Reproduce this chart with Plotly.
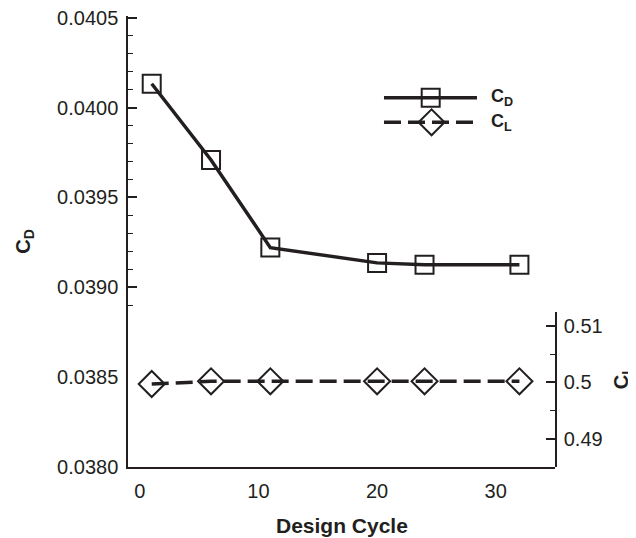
import plotly.graph_objects as go

# ---- data ----
design_cycle = [1, 6, 11, 20, 24, 32]
cd_values = [0.040133, 0.039709, 0.039221, 0.039136, 0.039125, 0.039125]
cl_values = [0.4997, 0.50018, 0.50018, 0.50018, 0.50018, 0.50018]

x_ticks = [0, 10, 20, 30]
y_ticks = [0.0380, 0.0385, 0.0390, 0.0395, 0.0400, 0.0405]
y_ticktext = ["0.0380", "0.0385", "0.0390", "0.0395", "0.0400", "0.0405"]
y2_ticks = [0.49, 0.50, 0.51]
y2_ticktext = ["0.49", "0.5", "0.51"]

INK = "#231f20"
FONT = "Liberation Sans, Arial, sans-serif"

fig = go.Figure()
fig.add_trace(go.Scatter(
    x=design_cycle, y=cd_values, mode="lines+markers", name="CD",
    line=dict(color=INK, width=3.5),
    marker=dict(symbol="square-open", size=18, color=INK, line=dict(width=2, color=INK)),
    xaxis="x", yaxis="y", showlegend=False,
))
fig.add_trace(go.Scatter(
    x=design_cycle, y=cl_values, mode="lines+markers", name="CL",
    line=dict(color=INK, width=3.5, dash="17px,7px"),
    marker=dict(symbol="diamond-open", size=20, color=INK, line=dict(width=2, color=INK)),
    xaxis="x", yaxis="y2", showlegend=False,
))

axis_common = dict(
    showline=True, linecolor=INK, linewidth=1.5,
    ticks="inside", tickwidth=1.5, tickcolor=INK,
    showgrid=False, zeroline=False,
    ticklabeloverflow="allow",
    tickfont=dict(family=FONT, size=20, color=INK),
)

fig.update_layout(
    width=628, height=530,
    margin=dict(l=120, r=81, t=8, b=71, autoexpand=False),
    paper_bgcolor="white", plot_bgcolor="white",
    xaxis=dict(
        range=[-1, 35], tickvals=x_ticks, ticklen=9,
        minor=dict(dtick=2, tick0=0, ticks="inside", ticklen=5, tickwidth=1.2, tickcolor=INK),
        ticklabelstandoff=5,
        **axis_common,
    ),
    yaxis=dict(
        range=[0.0380, 0.04051], tickvals=y_ticks, ticktext=y_ticktext, ticklen=9,
        minor=dict(dtick=0.0001, tick0=0.038, ticks="inside", ticklen=5, tickwidth=1.2, tickcolor=INK),
        ticklabelstandoff=4,
        **axis_common,
    ),
    yaxis2=dict(
        domain=[0, 0.3443], anchor="x", side="right",
        range=[0.485, 0.5125], tickvals=y2_ticks, ticktext=y2_ticktext, ticklen=9,
        minor=dict(dtick=0.005, tick0=0.485, ticks="inside", ticklen=5, tickwidth=1.2, tickcolor=INK),
        ticklabelstandoff=3,
        **axis_common,
    ),
)

# axis titles
fig.add_annotation(
    text="<b>Design Cycle</b>", xref="paper", yref="paper",
    x=0.5, y=-0.0996, xanchor="center", yanchor="top", showarrow=False,
    font=dict(family=FONT, size=21, color=INK),
)
fig.add_annotation(
    text="<b>C<sub>D</sub></b>", xref="paper", yref="paper",
    x=-0.243, y=0.5, xanchor="center", yanchor="middle", showarrow=False,
    textangle=-90, font=dict(family=FONT, size=20, color=INK),
)
fig.add_annotation(
    text="<b>C<sub>L</sub></b>", xref="paper", yref="paper",
    x=1.157, y=0.197, xanchor="center", yanchor="middle", showarrow=False,
    textangle=-90, font=dict(family=FONT, size=20, color=INK),
)

# manual legend
leg_x0, leg_x1, leg_xm = 0.5995, 0.8173, 0.7089
leg_y_cd, leg_y_cl = 0.8188, 0.7643
fig.add_shape(type="line", xref="paper", yref="paper", x0=leg_x0, x1=leg_x1,
              y0=leg_y_cd, y1=leg_y_cd, line=dict(color=INK, width=3.5))
fig.add_shape(type="line", xref="paper", yref="paper", x0=leg_x0, x1=leg_x1,
              y0=leg_y_cl, y1=leg_y_cl, line=dict(color=INK, width=3.5, dash="17px,7px"))
fig.add_shape(type="rect", xref="paper", yref="paper", xsizemode="pixel", ysizemode="pixel",
              xanchor=leg_xm, yanchor=leg_y_cd, x0=-9, x1=9, y0=-9, y1=9,
              line=dict(color=INK, width=2))
fig.add_shape(type="path", xref="paper", yref="paper", xsizemode="pixel", ysizemode="pixel",
              xanchor=leg_xm + 0.002, yanchor=leg_y_cl,
              path="M -13,0 L 0,13 L 13,0 L 0,-13 Z", line=dict(color=INK, width=2))
fig.add_annotation(text="<b>C<sub>D</sub></b>", xref="paper", yref="paper",
                   x=0.845, y=leg_y_cd, xanchor="left", yanchor="middle", showarrow=False,
                   font=dict(family=FONT, size=18, color=INK))
fig.add_annotation(text="<b>C<sub>L</sub></b>", xref="paper", yref="paper",
                   x=0.845, y=leg_y_cl, xanchor="left", yanchor="middle", showarrow=False,
                   font=dict(family=FONT, size=18, color=INK))

fig.write_html("out.html")
